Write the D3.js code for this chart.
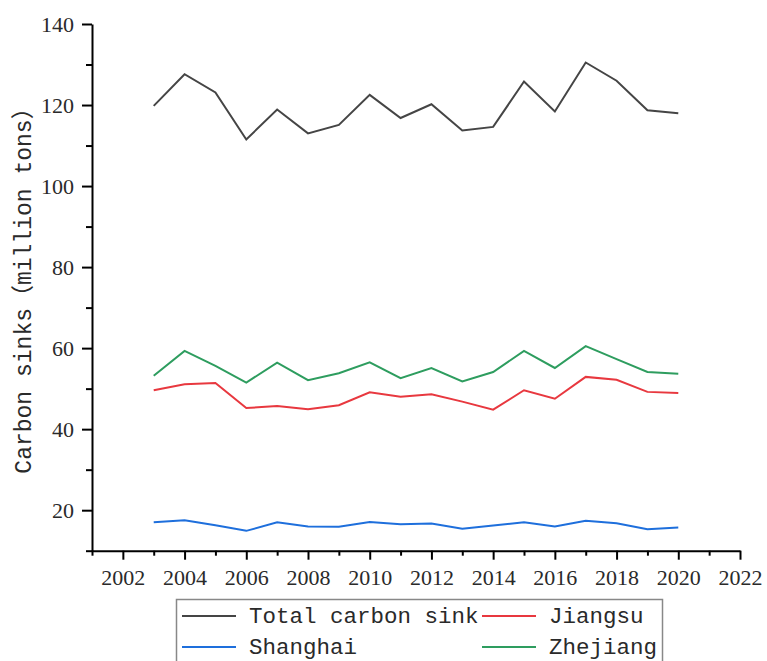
<!DOCTYPE html>
<html>
<head>
<meta charset="utf-8">
<script src="https://cdn.jsdelivr.net/npm/d3@7"></script>
<style>
  body { margin: 0; background: #fff; }
  svg { display: block; }
</style>
</head>
<body>
<div id="chart"></div>
<script>
var years = [2003, 2004, 2005, 2006, 2007, 2008, 2009, 2010, 2011, 2012, 2013, 2014, 2015, 2016, 2017, 2018, 2019, 2020];
var totalSink = [119.8, 127.6, 123.1, 111.5, 118.9, 113.0, 115.1, 122.5, 116.8, 120.2, 113.7, 114.6, 125.8, 118.4, 130.5, 126.0, 118.7, 118.0];
var jiangsu = [49.6, 51.1, 51.4, 45.2, 45.7, 44.9, 45.9, 49.1, 48.0, 48.6, 46.8, 44.8, 49.6, 47.5, 52.9, 52.2, 49.2, 48.9];
var shanghai = [17.0, 17.5, 16.3, 14.9, 17.0, 16.0, 15.9, 17.1, 16.5, 16.7, 15.4, 16.2, 17.0, 16.0, 17.4, 16.8, 15.3, 15.7];
var zhejiang = [53.2, 59.3, 55.6, 51.5, 56.4, 52.1, 53.8, 56.5, 52.6, 55.1, 51.8, 54.1, 59.3, 55.1, 60.5, 57.3, 54.1, 53.7];
var seriesNames = ["Total carbon sink", "Jiangsu", "Shanghai", "Zhejiang"];
var seriesColors = ["#454545", "#e8383f", "#1e6fdc", "#2e9d5f"];
var yMajor = [20, 40, 60, 80, 100, 120, 140];
var yMinor = [10, 30, 50, 70, 90, 110, 130];
var xMajor = [2002, 2004, 2006, 2008, 2010, 2012, 2014, 2016, 2018, 2020, 2022];
var xMinor = [2001, 2003, 2005, 2007, 2009, 2011, 2013, 2015, 2017, 2019, 2021];
// y title pieces: full-width brackets get a CJK font so they keep their width
var yLabelParts = ["Carbon sinks", "\uFF08", "million tons", "\uFF09"];

var width = 767, height = 661;
var svg = d3.select("#chart").append("svg")
    .attr("width", width)
    .attr("height", height);

var x = d3.scaleLinear().domain([2001, 2022]).range([92, 740]);
var y = d3.scaleLinear().domain([10, 140]).range([550.7, 24]);

// minor ticks first, then major axes on top
svg.append("g")
    .attr("transform", "translate(92,0)")
    .call(d3.axisLeft(y).tickValues(yMinor).tickSize(6).tickSizeOuter(0).tickFormat(""))
    .call(function (g) { g.select(".domain").remove(); });
svg.append("g")
    .attr("transform", "translate(0,550.7)")
    .call(d3.axisBottom(x).tickValues(xMinor).tickSize(5).tickSizeOuter(0).tickFormat(""))
    .call(function (g) { g.select(".domain").remove(); });

var yAxis = svg.append("g")
    .attr("transform", "translate(92,0)")
    .call(d3.axisLeft(y).tickValues(yMajor).tickSize(10).tickSizeOuter(0).tickPadding(8).tickFormat(d3.format("d")));
var xAxis = svg.append("g")
    .attr("transform", "translate(0,550.7)")
    .call(d3.axisBottom(x).tickValues(xMajor).tickSize(9).tickSizeOuter(0).tickPadding(10).tickFormat(d3.format("d")));

svg.selectAll(".tick line, .domain")
    .attr("stroke", "#000")
    .attr("stroke-width", 2);
svg.selectAll(".tick text")
    .attr("font-family", "'Liberation Serif', serif")
    .attr("font-size", "22px")
    .attr("fill", "#2a2a2a");

// y axis title
var yTitle = svg.append("text")
    .attr("transform", "translate(31,285) rotate(-90)")
    .attr("text-anchor", "middle")
    .attr("font-family", "'Liberation Mono', monospace")
    .attr("font-size", "23px")
    .attr("fill", "#2a2a2a");
yTitle.selectAll("tspan")
    .data(yLabelParts)
    .enter()
    .append("tspan")
    .attr("font-family", function (d, i) { return i % 2 ? "'Noto Sans CJK SC', sans-serif" : null; })
    .text(function (d) { return d; });

var allSeries = [totalSink, jiangsu, shanghai, zhejiang];
var line = d3.line()
    .x(function (d, i) { return x(years[i]); })
    .y(function (d) { return y(d); });

svg.append("g").selectAll("path")
    .data(allSeries)
    .enter()
    .append("path")
    .attr("d", line)
    .attr("fill", "none")
    .attr("stroke", function (d, i) { return seriesColors[i]; })
    .attr("stroke-width", 2)
    .attr("stroke-linejoin", "miter");

// legend
var legend = svg.append("g");
legend.append("rect")
    .attr("x", 176.5)
    .attr("y", 599.5)
    .attr("width", 486)
    .attr("height", 80)
    .attr("fill", "#fff")
    .attr("stroke", "#888")
    .attr("stroke-width", 1.5);

var legendPos = [[182, 616], [482, 616], [182, 647], [482, 647]];
var items = legend.selectAll("g.item")
    .data(seriesNames)
    .enter()
    .append("g")
    .attr("class", "item")
    .attr("transform", function (d, i) { return "translate(" + legendPos[i][0] + "," + legendPos[i][1] + ")"; });
items.append("line")
    .attr("x1", 0)
    .attr("x2", 54)
    .attr("stroke", function (d, i) { return seriesColors[i]; })
    .attr("stroke-width", 2);
items.append("text")
    .attr("x", 67)
    .attr("y", 1)
    .attr("dominant-baseline", "central")
    .attr("font-family", "'Liberation Mono', monospace")
    .attr("font-size", "22.5px")
    .attr("fill", "#2a2a2a")
    .text(function (d) { return d; });
</script>
</body>
</html>
